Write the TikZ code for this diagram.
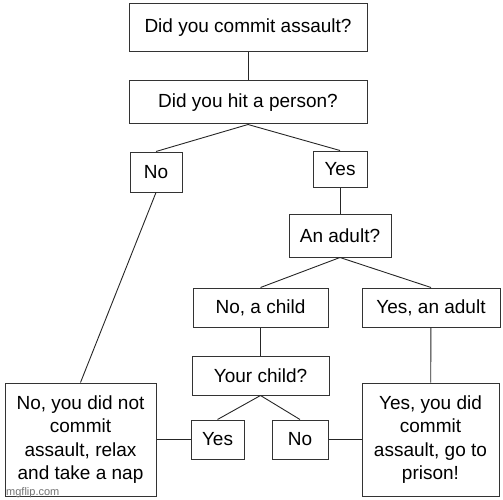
\documentclass[tikz,border=0pt]{standalone}
\usepackage{fontspec}
\setmainfont{Liberation Sans}
\usepackage{tikz}
\usetikzlibrary{positioning}

\begin{document}
\begin{tikzpicture}[
  x=1pt, y=-1pt,
  node distance=28pt,
  box/.style={draw=black!80, line width=1pt, fill=white, align=center, inner sep=0pt,
    font=\fontsize{19}{23.3}\selectfont, minimum height=39pt},
  link/.style={draw=black!85, line width=0.9pt}
]
\useasboundingbox (0,0) rectangle (503,500);

\node[box, minimum width=238pt, minimum height=48pt] (commit) at (248,28) {Did you commit assault?};
\node[box, minimum width=238pt, minimum height=43pt, below=28pt of commit] (hit) {Did you hit a person?};
\node[box, minimum width=52pt, minimum height=40pt] (hitno) at (156,172) {No};
\node[box, minimum width=54pt, minimum height=36pt] (hityes) at (340,169) {Yes};
\node[box, minimum width=102pt, minimum height=43pt, below=26pt of hityes] (adult) {An adult?};
\node[box, minimum width=135pt] (child) at (260.5,307.5) {No, a child};
\node[box, minimum width=138pt] (grown) at (431,307.5) {Yes, an adult};
\node[box, minimum width=137pt, below=28pt of child] (own) {Your child?};
\node[box, minimum width=53pt] (ownyes) at (217.5,439.5) {Yes};
\node[box, minimum width=56pt] (ownno) at (300,439.5) {No};
\node[box, minimum width=151pt, minimum height=113pt] (innocent) at (80.5,439.5)
  {No, you did not\\ commit\\ assault, relax\\ and take a nap};
\node[box, minimum width=137pt, minimum height=113pt] (guilty) at (430.5,439.5)
  {Yes, you did\\ commit\\ assault, go to\\ prison!};

% watermark
\node[anchor=base west, inner sep=0pt, text=black!55, font=\fontsize{11}{12}\selectfont] (mark) at (6,495) {mgflip.com};

\draw[link] (commit) -- (hit);
\draw[link] (hit.south) -- (hitno.north);
\draw[link] (hit.south) -- (hityes.north);
\draw[link] (hitno.south) -- (innocent.north);
\draw[link] (hityes) -- (adult);
\draw[link] (adult.south) -- (child.north);
\draw[link] (adult.south) -- (grown.north);
\draw[link] (child) -- (own);
\draw[link] (grown) -- (guilty);
\draw[link] (own.south) -- (ownyes.north);
\draw[link] (own.south) -- (ownno.north);
\draw[link] (innocent) -- (ownyes);
\draw[link] (ownno) -- (guilty);

\end{tikzpicture}
\end{document}
